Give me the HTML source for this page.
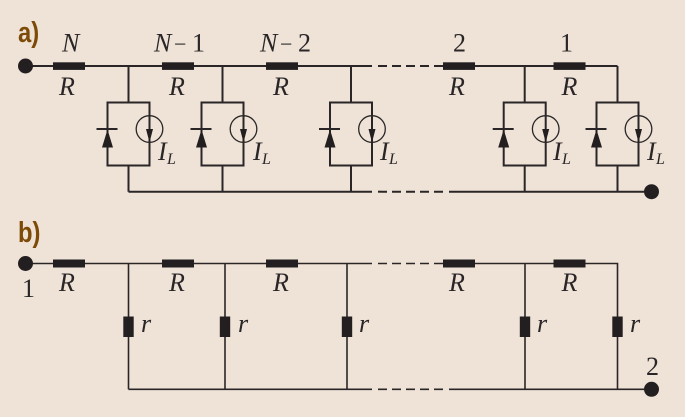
<!DOCTYPE html>
<html><head><meta charset="utf-8">
<style>
html,body{margin:0;padding:0;background:#efe3d7;}
svg{display:block;}
.i{font-family:"Liberation Serif",serif;font-style:italic;font-size:26px;fill:#2a2627;}
.n{font-family:"Liberation Serif",serif;font-size:26px;fill:#2a2627;}
.s{font-family:"Liberation Serif",serif;font-style:italic;font-size:16px;fill:#2a2627;}
.h{font-family:"Liberation Sans",sans-serif;font-weight:bold;font-size:29px;fill:#7d4a08;}
.w{stroke:#2a2627;stroke-width:2;fill:none;}
.t{stroke:#2a2627;stroke-width:1.6;fill:none;}
.f{fill:#231f20;}
</style></head>
<body>
<svg width="685" height="417" viewBox="0 0 685 417" xmlns="http://www.w3.org/2000/svg">
<defs>
<g id="cell">
<path class="w" d="M0 0V36.5M-21 36.5H21V99.5H-21ZM0 99.5V125.7"/>
<path class="w" d="M-32 63H-11"/>
<path class="f" d="M-21 63.5L-15.5 81.5H-26.5Z"/>
<circle cx="21" cy="63" r="13.3" fill="none" stroke="#2a2627" stroke-width="1.3"/>
<path class="f" d="M17.5 63H24.5L21 76.5Z"/>
</g>
<g id="rv"><rect class="f" x="-5.2" y="316.5" width="10.4" height="20.5"/></g>
</defs>

<text class="h" transform="translate(18 42) scale(.82 1)">a)</text>
<path class="w" d="M25 66H372M475 66H617.5"/>
<path class="w" stroke-dasharray="9 5" d="M378 66H443"/>
<path class="w" d="M128.5 191.7H372M449 191.7H651"/>
<path class="w" stroke-dasharray="9 5" d="M378 191.7H447"/>
<circle class="f" cx="25.5" cy="66" r="7.5"/>
<circle class="f" cx="651.5" cy="191.7" r="7.5"/>
<rect class="f" x="53" y="62.3" width="32" height="7.6"/>
<rect class="f" x="162" y="62.3" width="32" height="7.6"/>
<rect class="f" x="266" y="62.3" width="32" height="7.6"/>
<rect class="f" x="443" y="62.3" width="32" height="7.6"/>
<rect class="f" x="553.5" y="62.3" width="32" height="7.6"/>
<use href="#cell" transform="translate(128.5 66)"/>
<use href="#cell" transform="translate(222.5 66)"/>
<use href="#cell" transform="translate(351 66)"/>
<use href="#cell" transform="translate(524.7 66)"/>
<use href="#cell" transform="translate(617.5 66)"/>

<text class="i" x="62" y="51.7">N</text>
<text class="i" x="154" y="51.7">N</text><text class="n" x="174" y="51.7" style="font-size:22px">−</text><text class="n" x="192" y="51.7">1</text>
<text class="i" x="260" y="51.7">N</text><text class="n" x="280" y="51.7" style="font-size:22px">−</text><text class="n" x="298" y="51.7">2</text>
<text class="n" x="453" y="51.7">2</text>
<text class="n" x="560" y="51.7">1</text>
<text class="i" x="59" y="95">R</text>
<text class="i" x="169" y="95">R</text>
<text class="i" x="273" y="95">R</text>
<text class="i" x="449" y="95">R</text>
<text class="i" x="561.5" y="95">R</text>

<text class="i" x="158" y="160">I</text><text class="s" x="167" y="164">L</text>
<text class="i" x="253" y="160">I</text><text class="s" x="262" y="164">L</text>
<text class="i" x="380" y="160">I</text><text class="s" x="389" y="164">L</text>
<text class="i" x="553" y="160">I</text><text class="s" x="562" y="164">L</text>
<text class="i" x="647" y="160">I</text><text class="s" x="656" y="164">L</text>

<text class="h" transform="translate(18 242) scale(.82 1)">b)</text>
<path class="t" d="M25 263.5H372M475 263.5H617.5V389.3M128.5 263.5V389.3M225 263.5V389.3M347 263.5V389.3M525 263.5V389.3"/>
<path class="t" d="M128.5 389.3H372M449 389.3H651"/>
<path class="t" stroke-dasharray="9 5" d="M378 263.5H443M378 389.3H447"/>
<circle class="f" cx="25.5" cy="263.5" r="7.5"/>
<circle class="f" cx="651.5" cy="389.3" r="7.5"/>
<rect class="f" x="53" y="259.5" width="32" height="8"/>
<rect class="f" x="162" y="259.5" width="32" height="8"/>
<rect class="f" x="266" y="259.5" width="32" height="8"/>
<rect class="f" x="443" y="259.5" width="32" height="8"/>
<rect class="f" x="553.5" y="259.5" width="32" height="8"/>
<use href="#rv" transform="translate(128.5 0)"/>
<use href="#rv" transform="translate(225 0)"/>
<use href="#rv" transform="translate(347 0)"/>
<use href="#rv" transform="translate(525 0)"/>
<use href="#rv" transform="translate(617.5 0)"/>
<text class="n" x="22" y="297">1</text>
<text class="n" x="646" y="375">2</text>
<text class="i" x="59" y="291">R</text>
<text class="i" x="169" y="291">R</text>
<text class="i" x="273" y="291">R</text>
<text class="i" x="449" y="291">R</text>
<text class="i" x="561.5" y="291">R</text>
<text class="i" x="141" y="332">r</text>
<text class="i" x="238" y="332">r</text>
<text class="i" x="359" y="332">r</text>
<text class="i" x="537" y="332">r</text>
<text class="i" x="630" y="332">r</text>
</svg>
</body></html>
